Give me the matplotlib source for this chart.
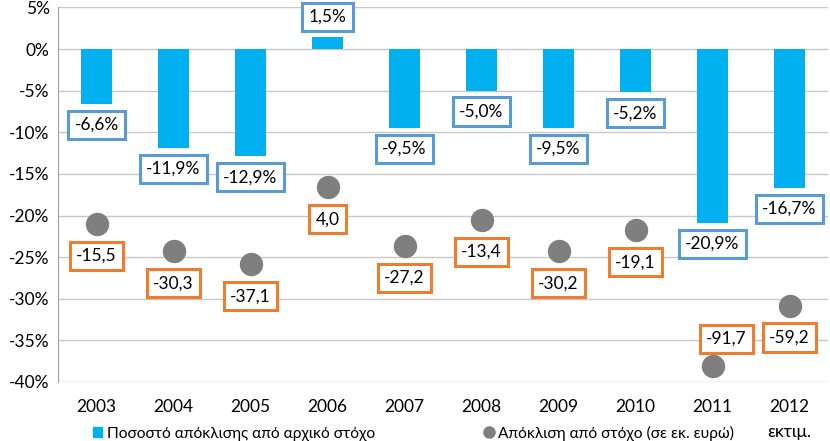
import matplotlib.pyplot as plt
from matplotlib.lines import Line2D
from matplotlib.patches import Patch

plt.rcParams['font.family'] = ['Lato', 'DejaVu Sans']

years = ['2003', '2004', '2005', '2006', '2007', '2008', '2009', '2010', '2011', '2012\nεκτιμ.']
pct_dev = [-6.6, -11.9, -12.9, 1.5, -9.5, -5.0, -9.5, -5.2, -20.9, -16.7]
eur_dev = [-15.5, -30.3, -37.1, 4.0, -27.2, -13.4, -30.2, -19.1, -91.7, -59.2]
# label above point (+1) or below (-1)
eur_label_side = [-1, -1, -1, -1, -1, -1, -1, -1, 1, -1]

blue = '#00B0F0'
gray = '#7F7F7F'
blue_edge = '#5B9BD5'
orange_edge = '#ED7D31'


def fmt(v):
    return f'{v:.1f}'.replace('.', ',')


fig = plt.figure(figsize=(8.3, 4.41), dpi=100)
ax = fig.add_axes([0.0699, 0.1338, 0.9277, 0.8494])
x = list(range(len(years)))

ax.bar(x, pct_dev, width=0.4, color=blue, zorder=2)
ax.set_ylim(-40, 5)
ax.set_xlim(-0.5, len(years) - 0.5)
ax.set_yticks(range(-40, 6, 5))
ax.set_yticklabels([f'{t}%' for t in range(-40, 6, 5)])
ax.grid(axis='y', color='#C8C8C8', linewidth=1, zorder=0)
ax.set_xticks(x)
ax.set_xticklabels(years, linespacing=1.75)
ax.tick_params(axis='both', length=0, labelsize=12.5, pad=6)
ax.tick_params(axis='x', pad=12)
for s in ['top', 'right', 'bottom']:
    ax.spines[s].set_visible(False)
ax.spines['left'].set_color('#A0A0A0')

for i, v in enumerate(pct_dev):
    off = 14 if v > 0 else -15
    ax.annotate(fmt(v) + '%', (i, v), xytext=(0, off), textcoords='offset points',
                ha='center', va='center', fontsize=12.5, zorder=5,
                bbox=dict(boxstyle='square,pad=0.35', fc='white', ec=blue_edge, lw=2.2))

ax2 = ax.twinx()
ax2.set_ylim(-100, 100)
ax2.axis('off')
ax2.scatter(x, eur_dev, s=250, color=gray, zorder=3)
for i, v in enumerate(eur_dev):
    off = 20 if eur_label_side[i] > 0 else -23
    dx = 10 if eur_label_side[i] > 0 else 0
    ax2.annotate(fmt(v), (i, v), xytext=(dx, off), textcoords='offset points',
                 ha='center', va='center', fontsize=12.5, zorder=5,
                 bbox=dict(boxstyle='square,pad=0.35', fc='white', ec=orange_edge, lw=2.2))

handles = [Patch(color=blue),
           Line2D([], [], marker='o', color=gray, linestyle='none', markersize=8)]
fig.legend(handles, ['Ποσοστό απόκλισης από αρχικό στόχο', 'Απόκλιση από στόχο (σε εκ. ευρώ)'],
           loc='center left', bbox_to_anchor=(0.112, 8 / 441), ncol=2, frameon=False,
           fontsize=11.2, handlelength=0.6, handleheight=0.6, handletextpad=0.3,
           columnspacing=7.0, borderpad=0, borderaxespad=0)

fig.savefig('out.png', dpi=100)
